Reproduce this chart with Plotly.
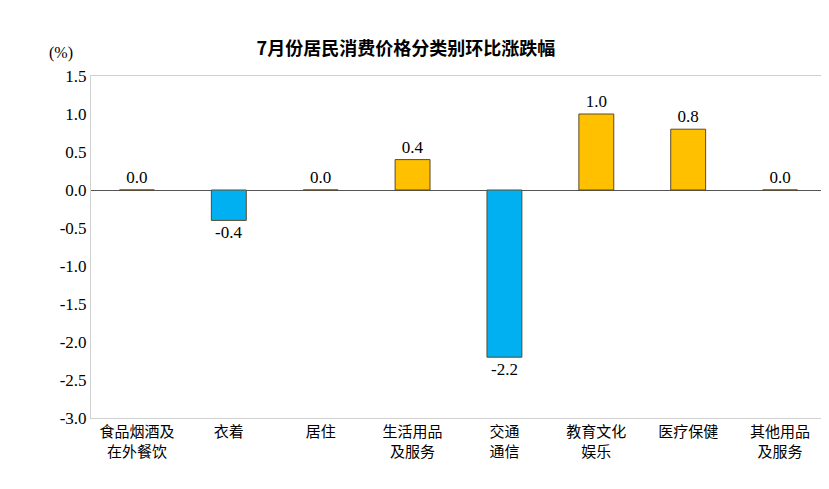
import plotly.graph_objects as go

categories = ["食品烟酒及<br>在外餐饮", "衣着", "居住", "生活用品<br>及服务", "交通<br>通信", "教育文化<br>娱乐", "医疗保健", "其他用品<br>及服务"]
values = [0.0, -0.4, 0.0, 0.4, -2.2, 1.0, 0.8, 0.0]
y_ticks = [1.5, 1.0, 0.5, 0.0, -0.5, -1.0, -1.5, -2.0, -2.5, -3.0]

colors = ["#FFC000" if v >= 0 else "#00B0F0" for v in values]
labels = [f"{v:.1f}" for v in values]

fig = go.Figure()
fig.add_trace(go.Bar(
    x=categories, y=values, width=0.38,
    marker=dict(color=colors, line=dict(color="#5a4a2a", width=1)),
    text=labels, textposition="outside", cliponaxis=False,
    textfont=dict(family="Liberation Serif", size=17, color="black"),
))
fig.update_layout(
    width=829, height=489, margin=dict(l=83, r=11, t=68, b=79, autoexpand=False),
    plot_bgcolor="white", paper_bgcolor="white", showlegend=False,
    font=dict(family="Noto Sans CJK SC", size=15, color="black"),
    title=dict(text="<b>7月份居民消费价格分类别环比涨跌幅</b>", x=0.48, y=0.93,
               font=dict(size=18, family="Noto Sans CJK SC")),
    xaxis=dict(showline=True, linecolor="#d0d0d0", mirror=True, ticks="",
               automargin=False, tickfont=dict(size=15)),
    yaxis=dict(range=[-3.0, 1.5], tickvals=y_ticks, ticktext=[f"{t:.1f}" for t in y_ticks],
               showgrid=False, zeroline=True, zerolinecolor="#555555", zerolinewidth=1,
               showline=True, linecolor="#d0d0d0", mirror=True, automargin=False,
               tickfont=dict(family="Liberation Serif", size=17)),
    annotations=[dict(text="(%)", xref="paper", yref="paper", x=-0.06, y=1.1,
                      showarrow=False, font=dict(family="Liberation Serif", size=16))],
)
fig.write_html("out.html")
